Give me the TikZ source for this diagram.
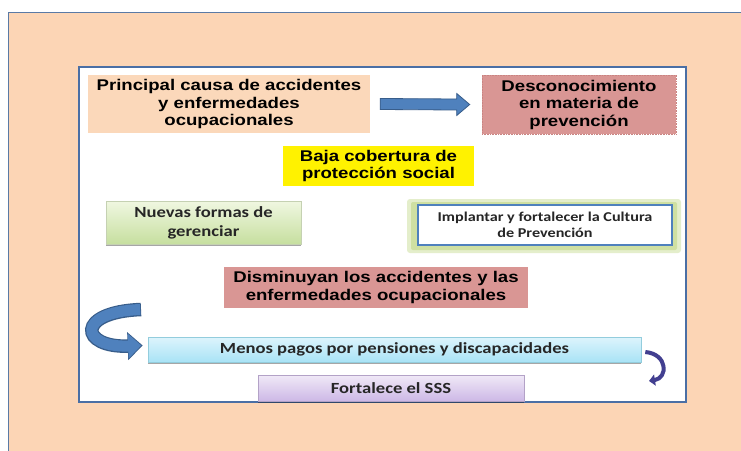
\documentclass[tikz,border=0pt]{standalone}
\usepackage{fontspec}
\usetikzlibrary{calc,arrows.meta,shadows}
\newfontfamily\arialx[FakeStretch=1.2]{Liberation Sans}
\newfontfamily\calx[FakeStretch=1.2]{Carlito}
\definecolor{peach}{HTML}{FCD5B5}
\definecolor{peachbox}{HTML}{FBD8BA}
\definecolor{outerline}{HTML}{5A7AA5}
\definecolor{innerline}{HTML}{4A6FA5}
\definecolor{rose}{HTML}{D99694}
\definecolor{roseline}{HTML}{C98482}
\definecolor{arrowblue}{HTML}{4F81BD}
\definecolor{arrowdark}{HTML}{385D8A}
\definecolor{greentop}{HTML}{F0F7E1}
\definecolor{greenbot}{HTML}{C6DF9F}
\definecolor{glowout}{HTML}{E4EECB}
\definecolor{glowin}{HTML}{CFE0A2}
\definecolor{cyantop}{HTML}{DDF4FC}
\definecolor{cyanbot}{HTML}{A9E3F6}
\definecolor{cyanline}{HTML}{93CDDD}
\definecolor{lavtop}{HTML}{F0E9F7}
\definecolor{lavbot}{HTML}{CDB8E6}
\definecolor{lavline}{HTML}{B3A2C7}
\definecolor{purplearrow}{HTML}{423F90}
\begin{document}
\begin{tikzpicture}[x=1pt,y=-1pt,
  rbox/.style={rectangle, inner sep=2pt, align=center, text=black,
    font=\arialx\bfseries\fontsize{15.5}{17.5}\selectfont},
  cbox/.style={rectangle, inner sep=2pt, align=center, text=black!85,
    font=\calx\bfseries\fontsize{15.5}{19}\selectfont},
  smallshadow/.style={drop shadow={shadow xshift=0pt, shadow yshift=-1.5pt, opacity=0.35, fill=black}}
]
\useasboundingbox (0,0) rectangle (741,450);
\fill[white] (0,0) rectangle (741,450);
\draw[fill=peach, draw=outerline, line width=1] (8,12) rectangle (760,470);
\draw[fill=white, draw=innerline, line width=2] (79,67) rectangle (686,402);

% top row
\node[rbox, fill=peachbox, minimum width=282, minimum height=58] (p) at (229,104)
  {Principal causa de accidentes\\y enfermedades\\ocupacionales};
\node[rbox, fill=rose, draw=roseline, densely dotted, line width=0.6, minimum width=194, minimum height=59] (d) at (579,104.5)
  {Desconocimiento\\en materia de\\prevención};
\coordinate (a1) at ($(p.east)+(10,0)$);
\coordinate (a2) at ($(d.west)+(-12,0)$);
\draw[fill=arrowblue, draw=arrowdark, line width=0.8]
  ($(a1)+(0,-5.5)$) -- ($(a2)+(-13,-5.5)$) -- ($(a2)+(-13,-11)$) -- (a2)
  -- ($(a2)+(-13,11)$) -- ($(a2)+(-13,5.5)$) -- ($(a1)+(0,5.5)$) -- cycle;

% Baja
\node[rbox, fill=yellow, minimum width=191, minimum height=40] (b) at (378.5,166)
  {Baja cobertura de\\protección social};

% Nuevas
\node[cbox, smallshadow, top color=greentop, bottom color=greenbot, draw=greenbot!80!black!60, line width=0.4, minimum width=195, minimum height=43] (n) at (203.5,222.5)
  {Nuevas formas de\\gerenciar};

% Implantar with glow
\fill[glowout, rounded corners=3] (407,199) rectangle (681,253);
\fill[glowin, rounded corners=2] (411,202) rectangle (677,250);
\node[cbox, fill=white, draw=arrowblue, line width=1.5, minimum width=254, minimum height=40,
  font=\calx\bfseries\fontsize{13.5}{16}\selectfont] (i) at (545,225)
  {Implantar y fortalecer la Cultura\\de Prevención};

% Disminuyan
\node[rbox, fill=rose, minimum width=304, minimum height=41] (s) at (376,287.5)
  {Disminuyan los accidentes y las\\enfermedades ocupacionales};

% Menos
\node[cbox, smallshadow, top color=cyantop, bottom color=cyanbot, draw=cyanline, line width=0.6, minimum width=493, minimum height=25] (m) at (394.5,349.5)
  {Menos pagos por pensiones y discapacidades};

% Fortalece
\node[cbox, smallshadow, top color=lavtop, bottom color=lavbot, draw=lavline, line width=0.6, minimum width=266, minimum height=26] (f) at (391,388)
  {Fortalece el SSS};

% left curved arrow
\coordinate (lt) at (141,309.5);
\draw[arrowdark, line width=13.5, -{Triangle[length=15pt, width=27pt]}]
  (lt) .. controls (75,312) and (80,348) .. ($(m.west)+(-5,-4)$);
\draw[arrowblue, line width=11, -{Triangle[length=13pt, width=24pt]}]
  ($(lt)+(-0.8,0)$) .. controls (75,312) and (80,348) .. ($(m.west)+(-6.5,-4)$);

% right curved arrow
\coordinate (rt) at ($(m.east)+(4,2.5)$);
\coordinate (re) at (649,381);
\draw[purplearrow, line width=4, -{Triangle[length=6pt, width=11pt]}]
  (rt) .. controls (668,354) and (668,378) .. (re);
\end{tikzpicture}
\end{document}
